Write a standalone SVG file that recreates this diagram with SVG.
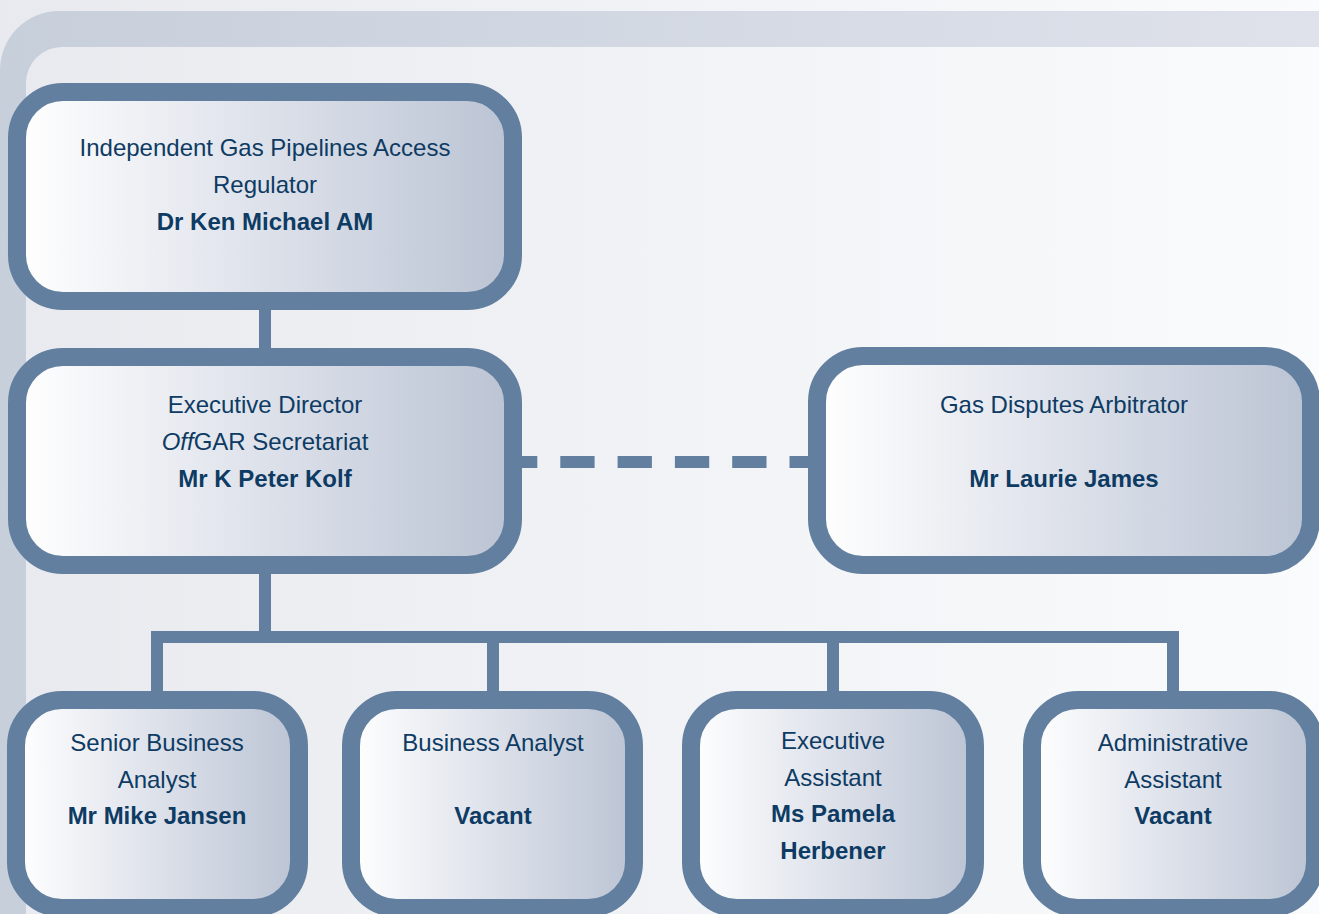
<svg xmlns="http://www.w3.org/2000/svg" width="1319" height="914" viewBox="0 0 1319 914">
  <defs>
    <linearGradient id="bg" x1="0" y1="0" x2="1" y2="0">
      <stop offset="0" stop-color="#e8eaef"/>
      <stop offset="1" stop-color="#fafbfc"/>
    </linearGradient>
    <linearGradient id="band" x1="0" y1="0" x2="1" y2="0">
      <stop offset="0" stop-color="#c7cfdb"/>
      <stop offset="1" stop-color="#dfe2eb"/>
    </linearGradient>
    <linearGradient id="boxfill" x1="0" y1="0" x2="1" y2="0">
      <stop offset="0" stop-color="#ffffff"/>
      <stop offset="0.5" stop-color="#dde1ea"/>
      <stop offset="1" stop-color="#bbc4d4"/>
    </linearGradient>
  </defs>
  <style>
    .box { fill: url(#boxfill); stroke: #627f9f; stroke-width: 18; }
    .conn { stroke: #627f9f; stroke-width: 12; fill: none; }
    .dash { stroke-dasharray: 34.3 23; }
    text { font-family: "Liberation Sans", Arial, sans-serif; font-size: 24px; fill: #0e3b63; text-anchor: middle; }
    .b { font-weight: bold; }
  </style>

  <rect x="0" y="0" width="1319" height="914" fill="url(#bg)"/>
  <path d="M0,914 L0,70 A59,59 0 0 1 59,11 L1319,11 L1319,47 L62,47 A36,36 0 0 0 26,83 L26,914 Z" fill="url(#band)"/>

  <g id="connectors">
    <line class="conn" x1="265" y1="300" x2="265" y2="358"/>
    <line class="conn dash" x1="503" y1="462" x2="830" y2="462"/>
    <line class="conn" x1="265" y1="565" x2="265" y2="637"/>
    <polyline class="conn" points="157,701 157,637 1173,637 1173,701"/>
    <line class="conn" x1="493" y1="637" x2="493" y2="701"/>
    <line class="conn" x1="833" y1="637" x2="833" y2="701"/>
  </g>

  <g id="regulator">
    <rect class="box" x="17" y="92" width="496" height="209" rx="46" ry="46"/>
    <text x="265" y="156">Independent Gas Pipelines Access</text>
    <text x="265" y="193">Regulator</text>
    <text class="b" x="265" y="230">Dr Ken Michael AM</text>
  </g>

  <g id="executive-director">
    <rect class="box" x="17" y="357" width="496" height="208" rx="46" ry="46"/>
    <text x="265" y="413">Executive Director</text>
    <text x="265" y="450"><tspan font-style="italic">Off</tspan>GAR Secretariat</text>
    <text class="b" x="265" y="487">Mr K Peter Kolf</text>
  </g>

  <g id="arbitrator">
    <rect class="box" x="817" y="356" width="494" height="209" rx="46" ry="46"/>
    <text x="1064" y="413">Gas Disputes Arbitrator</text>
    <text class="b" x="1064" y="487">Mr Laurie James</text>
  </g>

  <g id="senior-business-analyst">
    <rect class="box" x="16" y="700" width="283" height="208" rx="46" ry="46"/>
    <text x="157" y="751">Senior Business</text>
    <text x="157" y="788">Analyst</text>
    <text class="b" x="157" y="824">Mr Mike Jansen</text>
  </g>

  <g id="business-analyst">
    <rect class="box" x="351" y="700" width="283" height="208" rx="46" ry="46"/>
    <text x="493" y="751">Business Analyst</text>
    <text class="b" x="493" y="824">Vacant</text>
  </g>

  <g id="executive-assistant">
    <rect class="box" x="691" y="700" width="284" height="208" rx="46" ry="46"/>
    <text x="833" y="749">Executive</text>
    <text x="833" y="786">Assistant</text>
    <text class="b" x="833" y="822">Ms Pamela</text>
    <text class="b" x="833" y="859">Herbener</text>
  </g>

  <g id="administrative-assistant">
    <rect class="box" x="1032" y="700" width="283" height="208" rx="46" ry="46"/>
    <text x="1173" y="751">Administrative</text>
    <text x="1173" y="788">Assistant</text>
    <text class="b" x="1173" y="824">Vacant</text>
  </g>
</svg>
